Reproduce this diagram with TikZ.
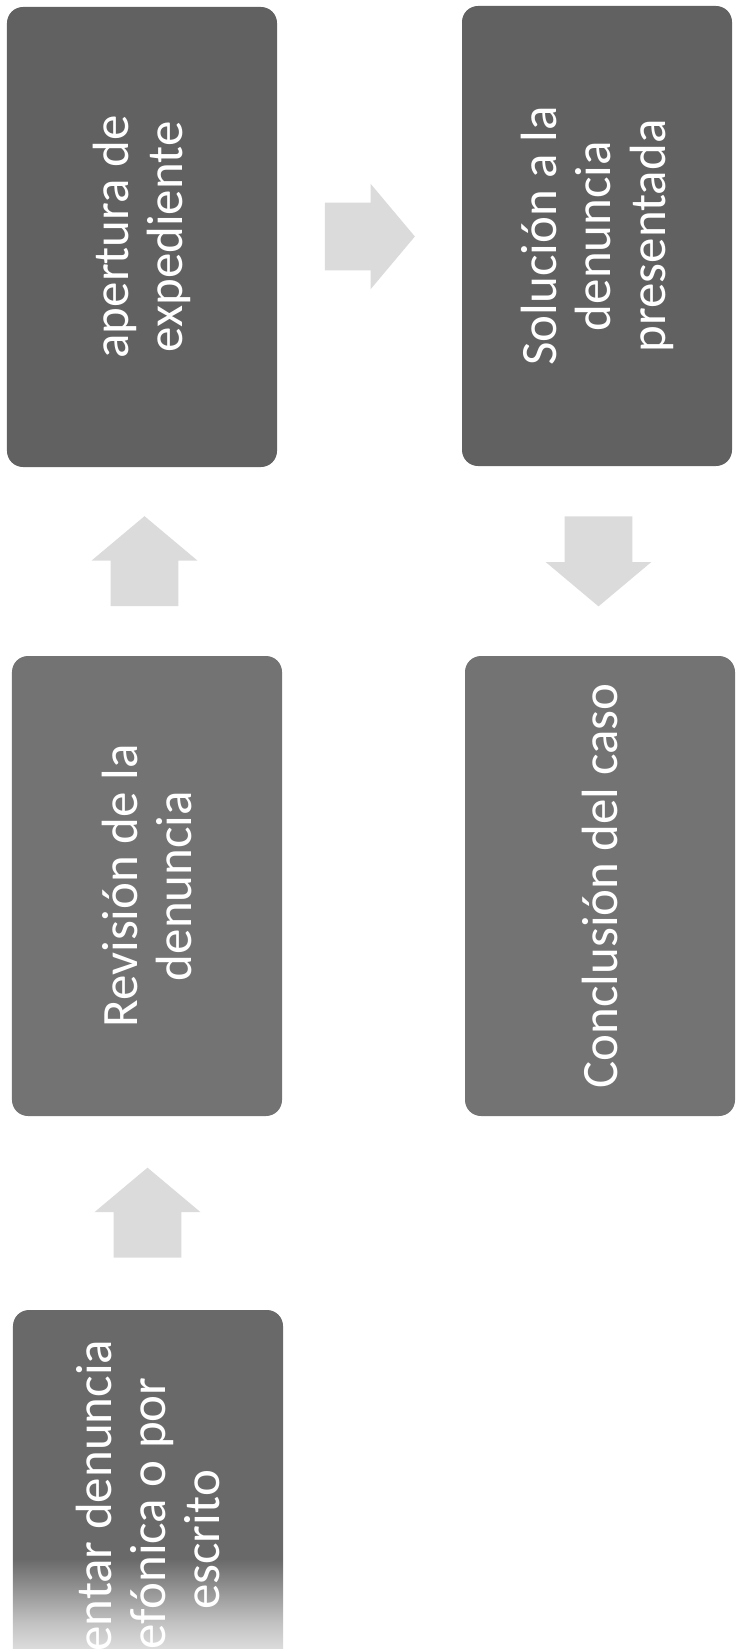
\documentclass[tikz,border=0pt]{standalone}
\usepackage{fontspec}
\setmainfont{Carlito}
\usepackage{tikz}
\usetikzlibrary{positioning,calc,shapes.arrows}

\definecolor{boxdark}{gray}{0.38}
\definecolor{boxlow}{gray}{0.41}
\definecolor{boxmid}{gray}{0.45}
\definecolor{fadelight}{gray}{0.87}
\definecolor{fademid}{gray}{0.76}
\definecolor{arrgray}{gray}{0.86}

% scan fades out at the bottom edge of the page
\pgfdeclareverticalshading{scanfade}{100bp}{color(0bp)=(white);
  color(38bp)=(fadelight); color(41bp)=(fademid); color(48bp)=(boxlow);
  color(100bp)=(boxlow)}

\begin{document}
\begin{tikzpicture}[x=0.2mm, y=-0.2mm,
  blk/.style={rounded corners=3.2mm, rotate=90, minimum width=92mm,
              minimum height=54mm, text=white, align=center, inner sep=0pt,
              font=\fontsize{29}{31}\selectfont},
  s1/.style={blk, fill=boxdark},
  s2/.style={blk, fill=boxmid},
  s3/.style={blk, shading=scanfade},
  arr/.style={single arrow, fill=arrgray, minimum height=18mm,
              single arrow head extend=3.8mm, single arrow tip angle=100,
              inner xsep=0pt, inner ysep=6.7mm, anchor=tail},
]
  \useasboundingbox (0,0) rectangle (741,1649);
  \clip (0,0) rectangle (741,1649);

  \node[s1] (aper) at (142,237) {apertura de\\expediente};
  \node[s1] (solu) at (597,236) {Solución a la\\denuncia\\presentada};
  \node[s2] (revi) at (147,886) {Revisión de la\\denuncia};
  \node[s2] (concl) at (600,886) {Conclusión del caso};
  \node[s3] (pres) at (148,1540) {Presentar denuncia\\telefónica o por\\escrito};

  \node[arr, rotate=90] (up1) at ($(pres)!0.5!(revi)+(0,45)$) {};
  \node[arr, rotate=90] (up2) at ($(revi)!0.5!(aper)+(0,45)$) {};
  \node[arr] (fwd) at ($(aper)!0.5!(solu)+(-45,0)$) {};
  \node[arr, rotate=-90] (down) at ($(solu)!0.5!(concl)+(0,-45)$) {};
\end{tikzpicture}
\end{document}
